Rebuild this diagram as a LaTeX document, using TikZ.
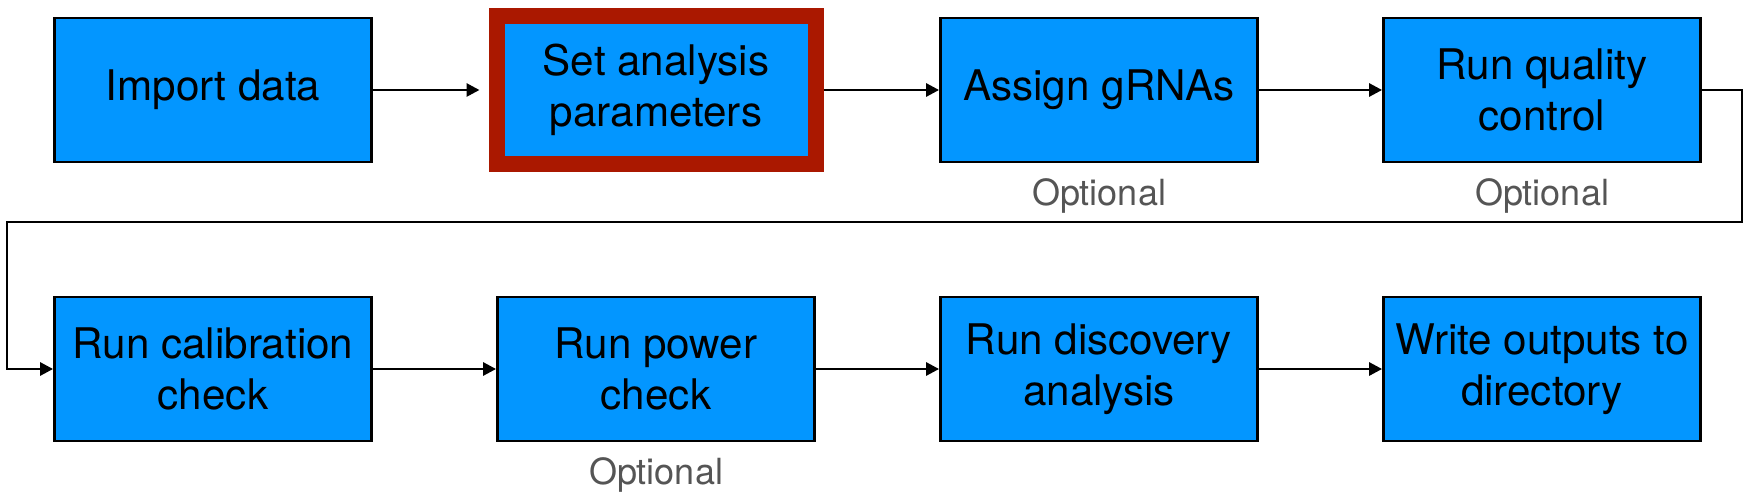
\documentclass[tikz,border=0pt]{standalone}
\usepackage{fontspec}
\setmainfont{TeX Gyre Heros}
\usepackage{tikz}
\usetikzlibrary{shapes,arrows,arrows.meta}
\definecolor{stepblue}{RGB}{3,150,255}
\definecolor{paramred}{RGB}{170,24,0}
\definecolor{optgray}{RGB}{85,85,85}

\begin{document}
\begin{tikzpicture}[auto, node distance=8.86cm,>={Triangle[length=0.26cm,width=0.26cm]}]
     		%define block styles
     		\tikzset{
     			process/.style={rectangle, minimum width=6.34cm, minimum height=2.88cm, align=center, draw=black, line width=1.6pt, fill=stepblue, font=\fontsize{24}{29}\selectfont},
     			chosen/.style={process, draw=paramred, line width=0.32cm, minimum width=6.38cm, minimum height=2.94cm},
     			optional/.style={text=optgray, font=\fontsize{20.5}{24}\selectfont},
     			arrow/.style={line width=1.6pt,->},}
     		\useasboundingbox (0,0) rectangle (35.04,9.98);
     		%define nodes
     		\node[process] at (4.26,8.18) (import){Import data};
     		\node[chosen, right of=import](params){Set analysis\\parameters};
     		\node[process, right of=params](assign){Assign gRNAs};
     		\node[process, right of=assign](qc){Run quality\\control};
     		\node[process, below of=import, node distance=5.58cm](calib){Run calibration\\check};
     		\node[process, right of=calib](power){Run power\\check};
     		\node[process, right of=power](discovery){Run discovery\\analysis};
     		\node[process, right of=discovery](write){Write outputs to\\directory};
     		\node[optional, below of=assign, node distance=2.12cm](optassign){Optional};
     		\node[optional, below of=qc, node distance=2.12cm](optqc){Optional};
     		\node[optional, below of=power, node distance=2.12cm](optpower){Optional};
     		\coordinate (turnR) at (34.84,5.54);
     		\coordinate (turnL) at (0.14,5.54);
     		%define arrows
     		\draw[arrow, shorten >=0.18cm] (import) -- (params);
     		\draw[arrow] (params) -- (assign);
     		\draw[arrow] (assign) -- (qc);
     		\draw[arrow] (qc.east) -| (turnR) -- (turnL) |- (calib.west);
     		\draw[arrow] (calib) -- (power);
     		\draw[arrow] (power) -- (discovery);
     		\draw[arrow] (discovery) -- (write);
     	\end{tikzpicture}
\end{document}
